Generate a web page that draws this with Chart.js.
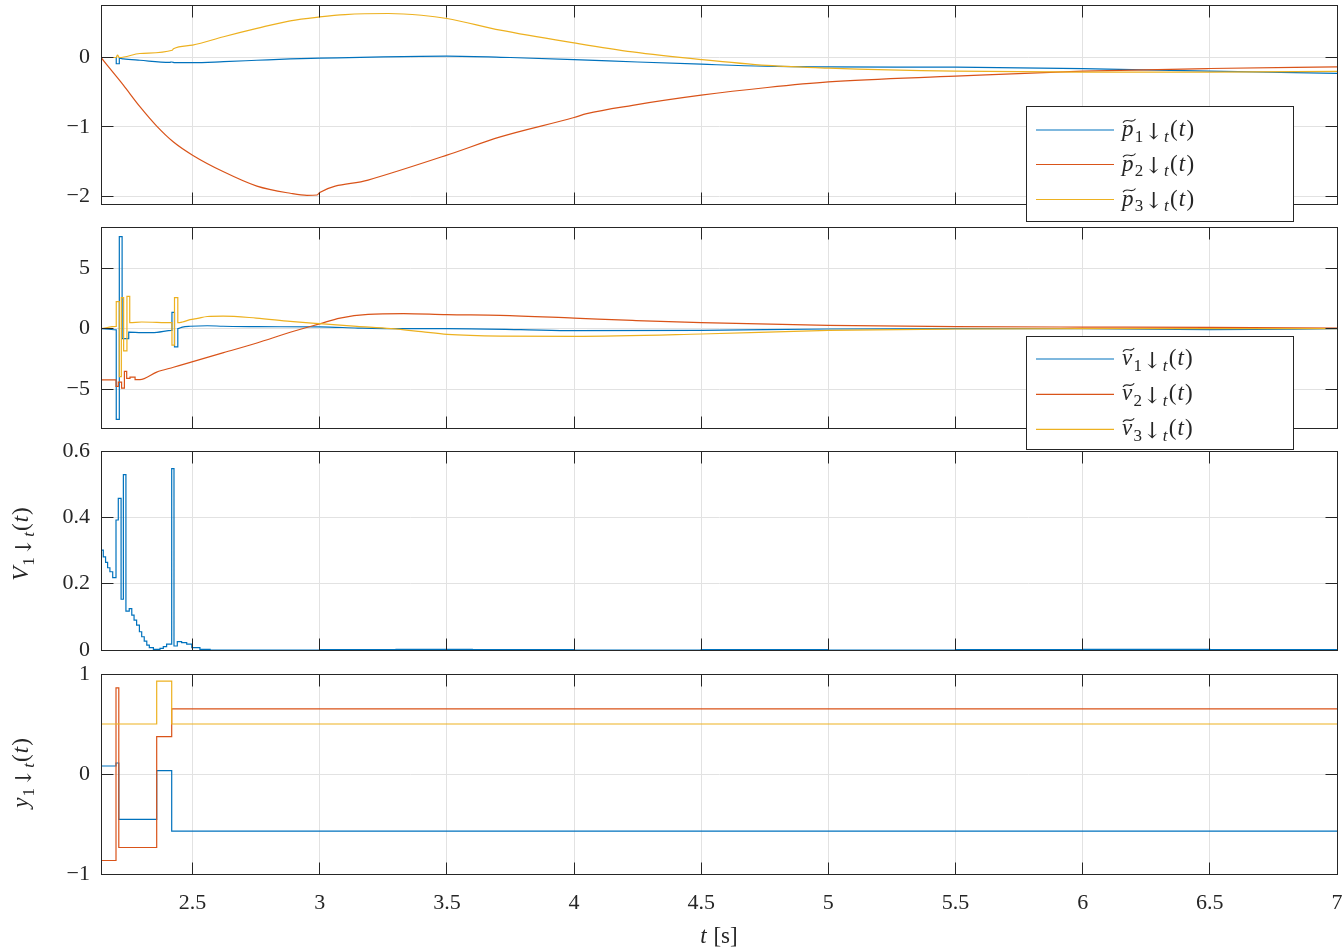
<!DOCTYPE html>
<html><head><meta charset="utf-8">
<script src="https://cdn.jsdelivr.net/npm/chart.js@4"></script>
<style>
html,body{margin:0;padding:0;background:#fff;}
#wrap{position:relative;width:1344px;height:948px;overflow:hidden;background:#fff;}
canvas{position:absolute;left:0;}
</style></head><body><div id="wrap">
<canvas id="c1" width="1344" height="226" style="top:0px;z-index:4"></canvas>
<canvas id="c2" width="1344" height="228" style="top:224px;z-index:3"></canvas>
<canvas id="c3" width="1344" height="238" style="top:436px;z-index:2"></canvas>
<canvas id="c4" width="1344" height="288" style="top:660px;z-index:1"></canvas>
</div>
<script>
// ---------- data ----------
const X_MIN = 2.14, X_MAX = 7;
const X_TICKS = [2.5, 3, 3.5, 4, 4.5, 5, 5.5, 6, 6.5, 7];

// panel 1: p~
const P_TICKS = [-2, -1, 0];
const p1T = [2.14, 2.2, 2.2, 2.212, 2.212, 2.228, 2.293, 2.41, 2.418, 2.43, 2.5, 2.622, 2.753, 2.884, 3.0, 3.25, 3.5, 3.75, 4.0, 4.25, 4.5, 4.75, 5.0, 5.5, 6.0, 6.5, 7.0];
const p1V = [0, 0, -0.09, -0.09, -0.01, -0.02, -0.04, -0.07, -0.065, -0.075, -0.075, -0.06, -0.04, -0.02, -0.01, 0.01, 0.02, 0.0, -0.03, -0.065, -0.097, -0.125, -0.135, -0.14, -0.16, -0.198, -0.23];
const p2T = [2.14, 2.21, 2.228, 2.293, 2.359, 2.425, 2.5, 2.622, 2.753, 2.884, 2.95, 2.99, 3.0, 3.19, 3.5, 3.71, 4.0, 4.05, 4.23, 4.5, 4.76, 5.0, 5.5, 6.0, 6.5, 7.0];
const p2V = [0, -0.317, -0.40, -0.71, -0.99, -1.22, -1.41, -1.65, -1.857, -1.96, -1.99, -1.985, -1.95, -1.77, -1.41, -1.146, -0.866, -0.81, -0.69, -0.544, -0.433, -0.352, -0.27, -0.198, -0.159, -0.136];
const p3T = [2.14, 2.199, 2.205, 2.212, 2.293, 2.42, 2.425, 2.5, 2.622, 2.753, 2.884, 3.0, 3.1, 3.27, 3.4, 3.5, 3.71, 4.0, 4.23, 4.5, 4.76, 5.0, 5.5, 6.0, 6.5, 7.0];
const p3V = [0, 0, 0.033, 0, 0.058, 0.105, 0.126, 0.178, 0.30, 0.42, 0.53, 0.586, 0.62, 0.635, 0.61, 0.563, 0.394, 0.21, 0.08, -0.03, -0.115, -0.154, -0.198, -0.212, -0.212, -0.2];

// panel 2: v~
const V_TICKS = [-5, 0, 5];
const v1T = [2.14, 2.17, 2.2, 2.2, 2.212, 2.212, 2.223, 2.223, 2.249, 2.249, 2.3, 2.36, 2.419, 2.419, 2.429, 2.429, 2.442, 2.442, 2.46, 2.49, 2.558, 2.62, 2.75, 3.0, 3.15, 3.28, 3.5, 3.79, 4.0, 4.5, 5.0, 5.5, 6.0, 6.5, 7.0];
const v1V = [0, -0.05, -0.1, -7.48, -7.48, 7.58, 7.58, -0.82, -0.82, -0.28, -0.33, -0.3, -0.14, 1.34, 1.34, -1.51, -1.51, 0.0, 0.13, 0.2, 0.24, 0.2, 0.16, 0.15, 0.05, 0.0, 0.0, -0.08, -0.17, -0.14, -0.03, 0.0, 0.0, -0.08, 0.0];
const v2T = [2.14, 2.199, 2.199, 2.208, 2.208, 2.221, 2.221, 2.232, 2.232, 2.241, 2.241, 2.254, 2.254, 2.274, 2.274, 2.293, 2.359, 2.425, 2.491, 2.622, 2.753, 2.884, 3.0, 3.08, 3.19, 3.33, 3.5, 3.71, 4.0, 4.23, 4.5, 5.0, 5.5, 6.0, 6.5, 7.0];
const v2V = [-4.23, -4.23, -4.76, -4.76, -4.4, -4.4, -4.9, -4.9, -3.52, -3.52, -4.1, -4.1, -4.0, -4.0, -4.2, -4.2, -3.58, -3.18, -2.78, -1.98, -1.18, -0.3, 0.4, 0.87, 1.18, 1.24, 1.15, 1.1, 0.87, 0.68, 0.49, 0.27, 0.16, 0.13, 0.1, 0.05];
const v3T = [2.14, 2.2, 2.2, 2.212, 2.212, 2.22, 2.22, 2.229, 2.229, 2.242, 2.242, 2.253, 2.253, 2.3, 2.419, 2.419, 2.429, 2.429, 2.442, 2.442, 2.46, 2.49, 2.52, 2.558, 2.62, 2.75, 2.884, 3.0, 3.146, 3.28, 3.4, 3.5, 3.71, 4.0, 4.5, 5.0, 5.5, 6.0, 7.0];
const v3V = [0, 0.19, 2.22, 2.22, -3.96, -3.96, 2.56, 2.56, -1.84, -1.84, 2.66, 2.66, 0.5, 0.55, 0.5, -1.35, -1.35, 2.56, 2.56, 0.49, 0.55, 0.74, 0.85, 1.0, 1.04, 0.87, 0.6, 0.41, 0.19, 0.0, -0.25, -0.47, -0.61, -0.63, -0.44, -0.14, -0.03, 0.0, 0.0];

// panel 3: V1
const W_TICKS = [0, 0.2, 0.4, 0.6];
const wT = [2.14, 2.1415, 2.149, 2.158, 2.166, 2.175, 2.186, 2.199, 2.208, 2.219, 2.228, 2.238, 2.251, 2.261, 2.27, 2.28, 2.291, 2.3, 2.31, 2.32, 2.33, 2.346, 2.372, 2.385, 2.398, 2.418, 2.427, 2.44, 2.457, 2.477, 2.497, 2.529, 2.569, 3.0, 3.3, 3.6, 4.0, 4.5, 5.0, 5.5, 6.0, 6.5, 7.0];
const wV = [0.43, 0.301, 0.281, 0.264, 0.248, 0.236, 0.218, 0.392, 0.457, 0.153, 0.529, 0.117, 0.125, 0.105, 0.09, 0.075, 0.055, 0.04, 0.027, 0.015, 0.007, 0.002, 0.005, 0.01, 0.018, 0.547, 0.012, 0.025, 0.022, 0.018, 0.007, 0.002, 0.0, 0.001, 0.002, 0.001, 0.0, 0.001, 0.0, 0.001, 0.002, 0.001, 0.0];

// panel 4: y1
const Y_TICKS = [-1, 0, 1];
const yT = [2.14, 2.1405, 2.199, 2.21, 2.359, 2.418, 7.0];
const y1V = [0, 0.08, 0.11, -0.454, 0.033, -0.571, -0.571];
const y2V = [0, -0.865, 0.861, -0.735, 0.374, 0.651, 0.651];
const y3V = [1.0, 0.5, 0.5, 0.5, 0.928, 0.5, 0.5];

const COLORS = ['#0072BD', '#D95319', '#EDB120'];

// ---------- drawing helpers ----------
const FAM = "'Liberation Serif','DejaVu Serif',serif";
const ARROW_FAM = "'DejaVu Serif','DejaVu Sans',serif";
const AX = '#262626';
const al = p => Math.round(p - 0.5) + 0.5;
const pts = (T, V) => T.map((t, i) => ({x: t, y: V[i]}));

function drawTilde(ctx, x, y, w) {
  ctx.save(); ctx.beginPath(); ctx.lineWidth = 1.1; ctx.strokeStyle = AX;
  const h = 1.8;
  ctx.moveTo(x, y + h);
  ctx.bezierCurveTo(x + w * 0.3, y - h * 2.2, x + w * 0.7, y + h * 2.2, x + w, y - h);
  ctx.stroke(); ctx.restore();
}
function drawRich(ctx, parts, x, y, size, align, gap) {
  gap = gap || 0;
  const fonts = parts.map(p => (p.it ? 'italic ' : '') +
    (p.sub ? Math.round(size * 0.72) : (p.arrow ? Math.round(size * 0.95) : size)) + 'px ' + (p.arrow ? ARROW_FAM : FAM));
  const ws = parts.map((p, i) => { ctx.font = fonts[i]; return ctx.measureText(p.t).width; });
  const total = ws.reduce((a, b) => a + b, 0) + gap * (parts.length - 1);
  let cx = align === 'center' ? x - total / 2 : x;
  ctx.fillStyle = AX; ctx.textBaseline = 'alphabetic'; ctx.textAlign = 'left';
  parts.forEach((p, i) => {
    ctx.font = fonts[i];
    ctx.fillText(p.t, cx, y + (p.sub ? size * 0.25 : (p.arrow ? size * 0.12 : 0)));
    if (p.tilde) drawTilde(ctx, cx + 1, y - size * 0.66, ws[i] + 1);
    cx += ws[i] + gap;
  });
}
function mathLabel(sym, idx, tilde) {
  return [{t: sym, it: true, tilde: tilde}, {t: idx, sub: true}, {t: '\u2193', arrow: true}, {t: 't', it: true, sub: true}, {t: '('}, {t: 't', it: true}, {t: ')'}];
}

const framePlugin = {
  id: 'frame',
  afterDatasetsDraw(chart) {
    const {ctx, chartArea: a, scales} = chart;
    ctx.save(); ctx.strokeStyle = AX; ctx.lineWidth = 1;
    const l = al(a.left), r = al(a.right), t = al(a.top), b = al(a.bottom);
    ctx.strokeRect(l, t, r - l, b - t);
    const TL = 12;
    ctx.beginPath();
    scales.y.ticks.forEach(tk => {
      const py = al(scales.y.getPixelForValue(tk.value));
      ctx.moveTo(l, py); ctx.lineTo(l + TL, py); ctx.moveTo(r, py); ctx.lineTo(r - TL, py);
    });
    scales.x.ticks.forEach(tk => {
      const px = al(scales.x.getPixelForValue(tk.value));
      ctx.moveTo(px, b); ctx.lineTo(px, b - TL); ctx.moveTo(px, t); ctx.lineTo(px, t + TL);
    });
    ctx.stroke(); ctx.restore();
  },
  afterDraw(chart) {
    const cfg = chart.options.plugins.frame;
    const ctx = chart.ctx;
    ctx.save();
    if (cfg.legend) {
      const L = cfg.legend;
      ctx.fillStyle = '#fff';
      ctx.fillRect(L.x0, L.y0, L.x1 - L.x0, L.y1 - L.y0);
      ctx.strokeStyle = AX; ctx.lineWidth = 1;
      ctx.strokeRect(al(L.x0), al(L.y0), Math.round(L.x1 - L.x0), Math.round(L.y1 - L.y0));
      L.rows.forEach((ry, i) => {
        ctx.beginPath(); ctx.strokeStyle = COLORS[i]; ctx.lineWidth = 1.2;
        ctx.moveTo(1036, ry); ctx.lineTo(1114, ry); ctx.stroke();
        drawRich(ctx, mathLabel(L.sym, String(i + 1), true), 1122, ry + 6, 23, 'left', 1.2);
      });
    }
    if (cfg.yTitle) {
      ctx.translate(28, cfg.yTitle.cy); ctx.rotate(-Math.PI / 2);
      drawRich(ctx, mathLabel(cfg.yTitle.sym, '1', false), 0, 0, 23, 'center', 1);
      ctx.setTransform(1, 0, 0, 1, 0, 0);
    }
    if (cfg.xTitle) {
      drawRich(ctx, [{t: 't', it: true}, {t: ' [s]'}], 719, cfg.xTitle.y, 23, 'center', 1);
    }
    ctx.restore();
  }
};

function makePanel(id, p) {
  const datasets = p.series.map((s, i) => ({
    data: pts(s[0], s[1]),
    borderColor: COLORS[i], backgroundColor: COLORS[i], borderWidth: 1.2,
    pointRadius: 0, pointHoverRadius: 0, fill: false, order: 3 - i,
    stepped: p.stepped ? true : false,
    cubicInterpolationMode: p.stepped ? 'default' : 'monotone', tension: 0
  }));
  const fmt = v => String(v).replace('-', '\u2212');
  return new Chart(document.getElementById(id), {
    type: 'line',
    data: {datasets},
    options: {
      responsive: false, animation: false, devicePixelRatio: 1,
      layout: {padding: {left: 0, right: 7, top: p.padTop, bottom: 0}},
      plugins: {legend: {display: false}, tooltip: {enabled: false},
        frame: {legend: p.legend, yTitle: p.yTitle, xTitle: p.xTitle}},
      scales: {
        x: {
          type: 'linear', min: X_MIN, max: X_MAX,
          afterBuildTicks: sc => { sc.ticks = X_TICKS.map(v => ({value: v})); },
          afterFit: sc => { sc.height = p.xH; sc.paddingLeft = 0; sc.paddingRight = 0; sc.paddingTop = 0; sc.paddingBottom = 0; },
          grid: {color: '#e2e2e2', lineWidth: 1, drawTicks: false},
          border: {display: true, color: AX, width: 1},
          ticks: {display: !!p.showX, padding: 16, autoSkip: false, maxRotation: 0,
            color: AX, font: {family: FAM, size: 22}, callback: fmt}
        },
        y: {
          type: 'linear', min: p.yMin, max: p.yMax,
          afterBuildTicks: sc => { sc.ticks = p.yTicks.map(v => ({value: v})); },
          afterFit: sc => { sc.width = 101; sc.paddingTop = 0; sc.paddingBottom = 0; sc.paddingLeft = 0; sc.paddingRight = 0; },
          grid: {color: '#e2e2e2', lineWidth: 1, drawTicks: false},
          border: {display: true, color: AX, width: 1},
          ticks: {padding: 11, autoSkip: false, color: AX, font: {family: FAM, size: 22}, callback: fmt}
        }
      }
    },
    plugins: [framePlugin]
  });
}

makePanel('c1', {padTop: 5, xH: 22, yMin: -2.115, yMax: 0.758, yTicks: P_TICKS,
  series: [[p1T, p1V], [p2T, p2V], [p3T, p3V]],
  legend: {x0: 1026, y0: 106.5, x1: 1293, y1: 221.5, rows: [130, 164.5, 199.5], sym: 'p'}});
makePanel('c2', {padTop: 3, xH: 24, yMin: -8.19, yMax: 8.38, yTicks: V_TICKS,
  series: [[v1T, v1V], [v2T, v2V], [v3T, v3V]],
  legend: {x0: 1026, y0: 112.7, x1: 1293, y1: 226, rows: [135, 170.3, 205.3], sym: 'v'}});
makePanel('c3', {padTop: 15, xH: 24, yMin: 0, yMax: 0.6, yTicks: W_TICKS, stepped: true,
  series: [[wT, wV]], yTitle: {sym: 'V', cy: 108}});
makePanel('c4', {padTop: 14, xH: 74, yMin: -1, yMax: 1, yTicks: Y_TICKS, stepped: true, showX: true,
  series: [[yT, y1V], [yT, y2V], [yT, y3V]], yTitle: {sym: 'y', cy: 113}, xTitle: {y: 283}});
</script>
</body></html>
